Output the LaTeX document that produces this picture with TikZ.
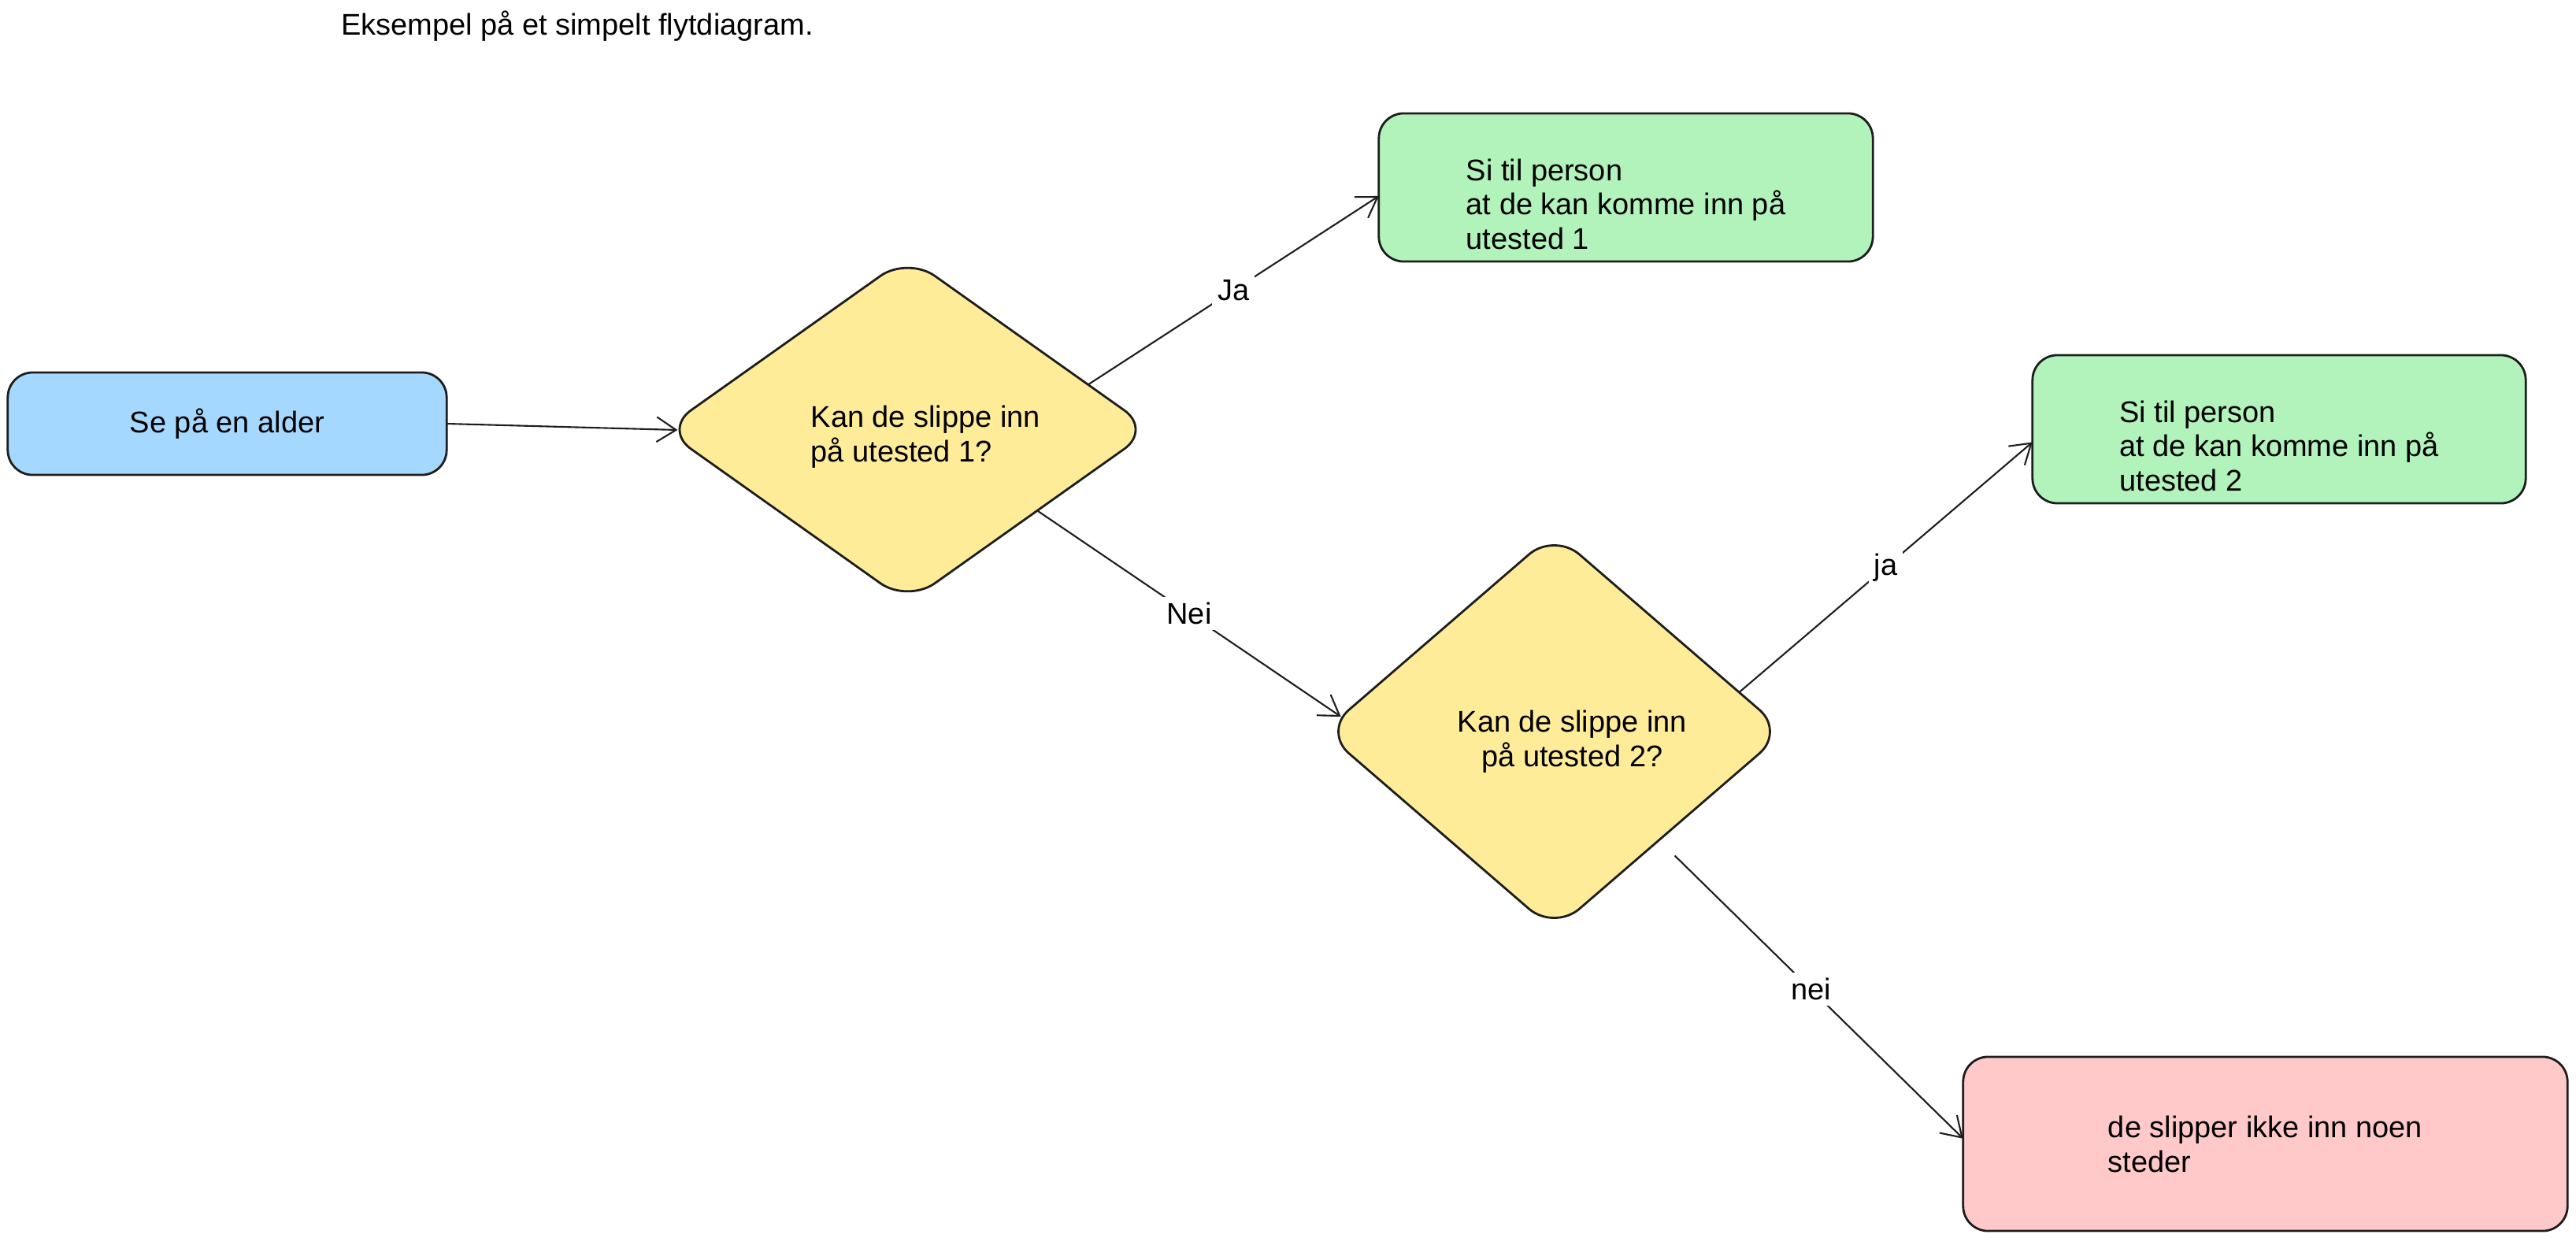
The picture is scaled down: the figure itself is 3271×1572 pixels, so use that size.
\documentclass[tikz,border=0pt]{standalone}
\usepackage{fontspec}
\setmainfont{Liberation Sans}
\usetikzlibrary{shapes.geometric, arrows.meta}

\definecolor{ink}{HTML}{1E1E1E}
\definecolor{exblue}{HTML}{A5D8FF}
\definecolor{exyellow}{HTML}{FFEC99}
\definecolor{exgreen}{HTML}{B2F2BB}
\definecolor{exred}{HTML}{FFC9C9}

\tikzset{
    box/.style={draw=ink, line width=0.8pt, rounded corners=9pt, inner sep=0pt, outer sep=0pt},
    choice/.style={diamond, draw=ink, fill=exyellow, line width=0.8pt, rounded corners=12pt, inner sep=0pt, outer sep=0pt},
    link/.style={draw=ink, line width=0.6pt},
    lbl/.style={fill=white, inner sep=2pt},
}

\begin{document}
\begin{tikzpicture}[x=0.01cm, y=-0.01cm, >={Straight Barb[length=7pt, width=9pt]},
        font=\fontsize{10.8}{12.5}\selectfont]
        \useasboundingbox (0, 0) rectangle (3271, 1572);

        \node at (733, 33)  (title)  {Eksempel på et simpelt flytdiagram.};

        \node[box, fill=exblue, minimum width=5.57cm, minimum height=1.30cm] at (288.5, 538)  (start)  {Se på en alder};

        % the two questions (struts push the text a little down and right)
        \node[choice, minimum width=6.19cm, minimum height=4.39cm, align=left] at (1152.5, 545.5)  (q1)
            {\hspace*{13pt}\rule{0pt}{13pt}Kan de slippe inn\\\hspace*{13pt}på utested 1?};
        \node[choice, minimum width=5.85cm, minimum height=5.05cm, align=center] at (1973.5, 929)  (q2)
            {\hspace*{13pt}\rule{0pt}{15pt}Kan de slippe inn\\\hspace*{13pt}på utested 2?};

        \node[box, fill=exgreen, minimum width=6.27cm, minimum height=1.88cm, align=left] at (2064.5, 238)  (yes1)
            {\rule{0pt}{20pt}Si til person\\at de kan komme inn på\\utested 1};
        \node[box, fill=exgreen, minimum width=6.26cm, minimum height=1.88cm, align=left] at (2894, 545)  (yes2)
            {\rule{0pt}{20pt}Si til person\\at de kan komme inn på\\utested 2};
        \node[box, fill=exred, minimum width=7.67cm, minimum height=2.21cm, align=left] at (2876.5, 1452.5)  (no)
            {de slipper ikke inn noen\\steder};

        % arrows between the steps
        \draw[link, ->, shorten >=-5pt]  (start.east) -- (q1.west);
        \draw[link, ->]  (q1.14) -- node[lbl] {Ja} (yes1.182);
        \draw[link, ->]  (q1.-32) -- node[lbl] {Nei} (q2.176);
        \draw[link, ->]  (q2.12) -- node[lbl] {ja} (yes2.183);
        \draw[link, ->, shorten <=8pt]  (q2.-46) -- node[lbl] {nei} (no.179);

\end{tikzpicture}
\end{document}
